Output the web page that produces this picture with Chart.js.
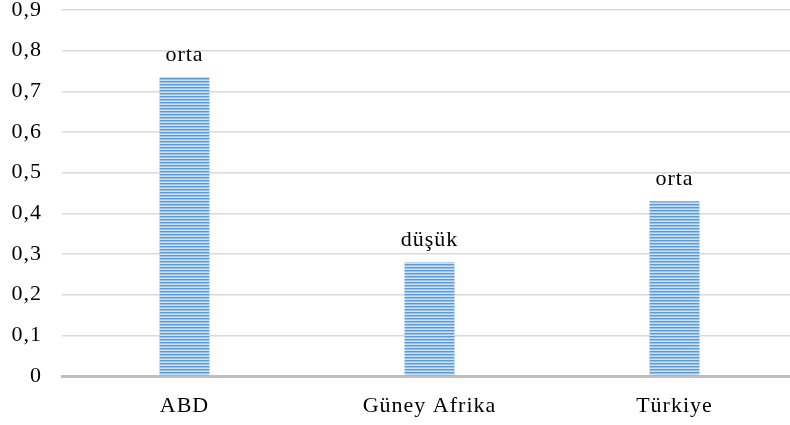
<!DOCTYPE html>
<html>
<head>
<meta charset="utf-8">
<script src="https://cdn.jsdelivr.net/npm/chart.js@4/dist/chart.umd.min.js"></script>
<style>
  html, body { margin: 0; padding: 0; background: #ffffff; overflow: hidden; }
  #wrap { position: relative; width: 797px; height: 425px; }
</style>
</head>
<body>
<div id="wrap"><canvas id="c"></canvas></div>
<script>
// Countries and their index values with the level shown above each bar
const categories = ['ABD', 'Güney Afrika', 'Türkiye'];
const values = [0.735, 0.28, 0.43];
const levels = ['orta', 'düşük', 'orta'];
const yTickLabels = ['0', '0,1', '0,2', '0,3', '0,4', '0,5', '0,6', '0,7', '0,8', '0,9'];

const FONT = "'Liberation Serif', 'Times New Roman', serif";
const FONT_SIZE = 22;

// Narrow horizontal stripe fill for the bars
function stripePattern() {
  const p = document.createElement('canvas');
  p.width = 4; p.height = 3;
  const g = p.getContext('2d');
  const rows = ['#5b9bd5', '#9cc2e8', '#cde0f4'];
  rows.forEach((col, i) => { g.fillStyle = col; g.fillRect(0, i, 4, 1); });
  return document.getElementById('c').getContext('2d').createPattern(p, 'repeat');
}

// Slightly wider letter spacing for all chart text
const textSpacing = {
  id: 'textSpacing',
  beforeLayout(chart) { chart.ctx.letterSpacing = '1px'; },
  beforeDraw(chart) { chart.ctx.letterSpacing = '1px'; }
};

// Draws the level text above each bar
const levelLabels = {
  id: 'levelLabels',
  afterDatasetsDraw(chart) {
    const ctx = chart.ctx;
    const meta = chart.getDatasetMeta(0);
    ctx.save();
    ctx.font = FONT_SIZE + 'px ' + FONT;
    ctx.fillStyle = '#000000';
    ctx.textAlign = 'center';
    ctx.textBaseline = 'alphabetic';
    meta.data.forEach((bar, i) => {
      ctx.fillText(levels[i], bar.x, bar.y - 16);
    });
    ctx.restore();
  }
};

new Chart(document.getElementById('c'), {
  type: 'bar',
  data: {
    labels: categories,
    datasets: [{
      data: values,
      backgroundColor: stripePattern(),
      borderWidth: 0,
      categoryPercentage: 1,
      barPercentage: 0.204
    }]
  },
  options: {
    responsive: true,
    maintainAspectRatio: false,
    animation: false,
    layout: { padding: 0 },
    plugins: { legend: { display: false }, tooltip: { enabled: false } },
    scales: {
      x: {
        grid: { display: false, drawTicks: false },
        border: { display: true, color: '#bfbfbf', width: 3 },
        ticks: { color: '#000000', font: { family: FONT, size: FONT_SIZE }, padding: 17 },
        afterFit(scale) { scale.height = 49; }
      },
      y: {
        min: 0,
        max: 0.9,
        grid: { color: '#d9d9d9', lineWidth: 1.5, drawTicks: false },
        border: { display: false },
        ticks: {
          stepSize: 0.1,
          color: '#000000',
          font: { family: FONT, size: FONT_SIZE },
          padding: 20,
          callback: (v, i) => yTickLabels[i]
        },
        afterFit(scale) {
          scale.width = 62;
          scale.paddingTop = 10;
          scale.paddingBottom = 10;
        }
      }
    }
  },
  plugins: [textSpacing, levelLabels]
});
</script>
</body>
</html>
